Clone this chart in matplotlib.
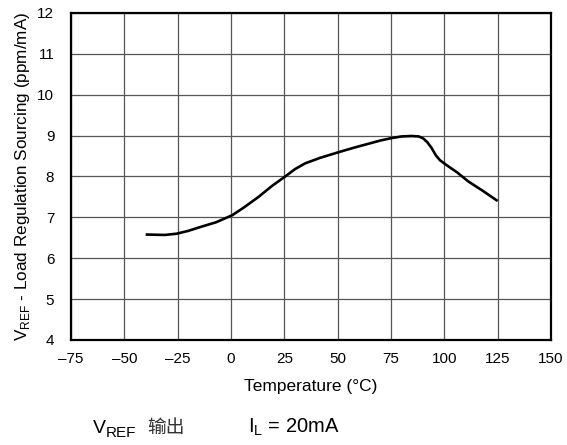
import matplotlib.pyplot as plt
from matplotlib.ticker import FixedLocator, FixedFormatter

plt.rcParams["font.family"] = ["Liberation Sans", "DejaVu Sans"]
plt.rcParams["mathtext.fontset"] = "custom"
plt.rcParams["mathtext.rm"] = "Liberation Sans"

# load regulation (sourcing) vs temperature
temp_c = [-40, -31, -25.5, -20, -14.6, -7, 0.5, 6, 12.9, 19, 25.4, 30, 34.7,
          42, 50.8, 58, 64.4, 70, 75.3, 80, 84.6, 88, 90.1, 92, 94, 96,
          97.9, 101, 106, 111.2, 118, 125]
ppm_per_ma = [6.58, 6.57, 6.6, 6.67, 6.76, 6.88, 7.05, 7.24, 7.5, 7.76, 8.0,
              8.18, 8.32, 8.46, 8.6, 8.71, 8.8, 8.88, 8.94, 8.98, 8.99, 8.98,
              8.93, 8.84, 8.7, 8.52, 8.4, 8.28, 8.1, 7.88, 7.65, 7.4]

x_ticks = [-75, -50, -25, 0, 25, 50, 75, 100, 125, 150]
x_tick_labels = ["–75", "–50", "–25", "0", "25", "50", "75", "100", "125", "150"]
y_ticks = [4, 5, 6, 7, 8, 9, 10, 11, 12]

fig = plt.figure(figsize=(5.67, 4.45), dpi=100)
ax = fig.add_axes([0.1252, 0.236, 0.8466, 0.7348])

ax.plot(temp_c, ppm_per_ma, color="black", linewidth=1.9,
        solid_capstyle="butt", solid_joinstyle="round")

ax.set_xlim(-75, 150)
ax.set_ylim(4, 12)
ax.xaxis.set_major_locator(FixedLocator(x_ticks))
ax.xaxis.set_major_formatter(FixedFormatter(x_tick_labels))
ax.yaxis.set_major_locator(FixedLocator(y_ticks))
ax.tick_params(length=0, labelsize=11, pad=9)
ax.tick_params(axis="y", pad=12)
ax.grid(True, color="#555555", linewidth=0.9)
ax.set_axisbelow(True)
for s in ax.spines.values():
    s.set_linewidth(1.6)
    s.set_color("black")

ax.set_xlabel("Temperature (°C)", fontsize=12.5, labelpad=9)
ax.set_ylabel(r"V$_{\mathregular{REF}}$ - Load Regulation Sourcing (ppm/mA)",
              fontsize=12.3, labelpad=4)

# condition line under the plot; the subscript is set by hand so it sits
# a bit larger than mathtext would make it
base = 0.027
fig.text(0.164, base, "V", fontsize=14, ha="left", va="baseline")
fig.text(0.186, base - 0.009, "REF", fontsize=11, ha="left", va="baseline")
fig.text(0.259, base, "输出", fontsize=13.5, ha="left", va="baseline",
         family=["Noto Sans CJK SC", "DejaVu Sans"], color="#333333")
fig.text(0.437, base, r"I$_{\mathregular{L}}$ = 20mA", fontsize=14.5, ha="left", va="baseline")

fig.savefig("out.png", dpi=100)
